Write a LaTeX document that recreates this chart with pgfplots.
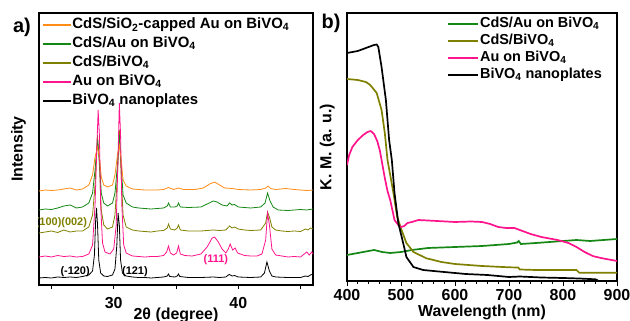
\documentclass[border=0pt]{standalone}
\usepackage{fontspec}
\setmainfont{Liberation Sans}
\usepackage{pgfplots}
\pgfplotsset{compat=1.18}
\definecolor{cOr}{RGB}{255,140,20}
\definecolor{cGr}{RGB}{20,135,20}
\definecolor{cOl}{RGB}{128,128,0}
\definecolor{cPk}{RGB}{255,20,140}
\newcommand{\sub}[1]{\textsubscript{#1}}
\tikzset{la/.style={line width=0.8bp}, lb/.style={line width=1.7bp}}
\begin{document}
\begin{tikzpicture}
\path[use as bounding box] (0bp,0bp) rectangle (630bp,321bp);
\node[font=\bfseries\fontsize{20}{20}\selectfont] at (22bp,294bp) {a)};
\node[font=\bfseries\fontsize{20}{20}\selectfont] at (331bp,298bp) {b)};
% ---------------- panel a
\begin{axis}[
 at={(39bp,36bp)}, anchor=south west, scale only axis, width=274bp, height=272bp,
 xmin=24, xmax=46, ymin=0, ymax=272,
 xtick={25,30,35,40,45}, xticklabels={,30,,40,},
 ytick=\empty, tick align=outside, xtick pos=bottom, major tick length=4bp,
 axis line style={line width=1.1bp}, every tick/.style={black, line width=0.9bp},
 xticklabel style={font=\bfseries\fontsize{16}{16}\selectfont},
 xticklabel shift=5bp,
 xlabel={2θ (degree)}, ylabel={Intensity},
 label style={font=\bfseries\fontsize{16}{16}\selectfont},
 xlabel style={at={(axis description cs:0.5,0)}, anchor=north, yshift=-19bp},
 ylabel style={at={(axis description cs:-0.035,0.5)}, anchor=south},
 legend style={at={(0,1)}, anchor=north west, xshift=3bp, yshift=-4bp, draw=none, fill=none,
   font=\bfseries\fontsize{15}{15}\selectfont, row sep=3.5bp, inner sep=0pt,
   nodes={inner sep=1bp, text height=10.5bp, text depth=3bp}},
 legend cell align=left,
 legend image code/.code={\draw[#1, line width=1.2bp] (0bp,0bp) -- (28bp,0bp);},
]
\addlegendimage{cOr}\addlegendentry{CdS/SiO\sub{2}-capped Au on BiVO\sub{4}}
\addlegendimage{cGr}\addlegendentry{CdS/Au on BiVO\sub{4}}
\addlegendimage{cOl}\addlegendentry{CdS/BiVO\sub{4}}
\addlegendimage{cPk}\addlegendentry{Au on BiVO\sub{4}}
\addlegendimage{black}\addlegendentry{BiVO\sub{4} nanoplates}
% black
\addplot[black, la, forget plot] coordinates {(24,7) (24.5,7.5) (25,7) (25.5,8) (26,7.5) (26.5,8) (27,7.5) (27.5,8.5) (28,10) (28.3,14) (28.45,30) (28.55,65) (28.62,77) (28.7,60) (28.8,25) (28.95,12) (29.2,9) (29.5,8.5) (29.9,10) (30.1,16) (30.25,40) (30.35,72) (30.45,60) (30.55,25) (30.7,12) (31,9) (31.5,8) (32,7.5) (32.5,7.5) (33,7) (33.5,7.5) (34,8) (34.3,9) (34.4,11) (34.5,8.5) (34.9,8) (35.1,9) (35.2,11) (35.3,8.5) (36,7.5) (37,7.5) (38,8) (38.5,7.5) (39,8) (39.2,10) (39.3,10.5) (39.5,9) (39.7,9.5) (40,8) (41,7.5) (41.8,8) (42.1,12) (42.3,23) (42.5,14) (42.7,9) (43,8) (44,7.5) (45,7.5) (45.4,9) (45.6,8.5) (45.8,10) (46,11)};
% olive
\addplot[cOl, la, forget plot] coordinates {(24,52) (24.5,53) (25,54) (25.5,52.5) (26,55) (26.5,53) (27,54) (27.5,54) (28,58) (28.3,70) (28.5,100) (28.7,150) (28.85,120) (29,75) (29.2,60) (29.5,56) (29.9,58) (30.1,70) (30.3,110) (30.45,155) (30.6,110) (30.75,70) (31,58) (31.5,55) (32,54) (32.5,53.5) (33,53) (33.5,54) (34,54.5) (34.3,57) (34.4,61) (34.55,56) (34.9,55) (35.1,57) (35.2,60) (35.35,55) (36,54) (37,54) (38,55) (38.5,54.5) (39,55) (39.3,59) (39.5,57) (39.7,58) (40,56) (40.5,55) (41,54.5) (41.8,55) (42.2,62) (42.35,73) (42.5,68) (42.7,58) (43,55) (43.5,54) (44,53.5) (44.5,54) (45,53.5) (45.4,56) (45.6,55) (45.8,57) (46,56)};
% green
\addplot[cGr, la, forget plot] coordinates {(24,75) (24.5,76) (25,75.5) (25.5,77) (26,79) (26.5,80) (27,77) (27.5,78) (28,82) (28.3,92) (28.5,115) (28.7,145) (28.85,125) (29,92) (29.2,82) (29.5,79) (29.9,82) (30.1,92) (30.3,120) (30.45,150) (30.6,120) (30.75,90) (31,82) (31.5,78) (32,77) (32.5,76.5) (33,76) (33.5,76.5) (34,77) (34.3,79) (34.4,82) (34.55,78) (34.9,78) (35.1,79) (35.2,82) (35.35,78) (36,77.5) (37,78) (37.5,81) (38,84) (38.3,83) (38.7,80) (39.1,79) (39.3,82) (39.5,80) (39.7,80.5) (40,78) (41,77) (41.8,78) (42.15,82) (42.35,92) (42.55,84) (42.8,78) (43.2,75) (44,74.5) (44.5,75) (45,75.5) (45.5,75) (46,76)};
% orange
\addplot[cOr, la, forget plot] coordinates {(24,94) (24.5,95) (25,94.5) (25.5,95) (26,96) (26.5,97) (27,95) (27.5,96) (28,100) (28.3,110) (28.5,128) (28.7,138) (28.85,128) (29,108) (29.2,100) (29.5,98) (29.9,100) (30.1,110) (30.3,130) (30.45,140) (30.6,125) (30.75,105) (31,99) (31.5,96) (32,95.5) (32.5,95) (33,95) (33.5,95) (34,95.5) (34.4,97.5) (34.8,95.5) (35.2,97) (35.6,95.5) (36.5,95.5) (37.2,97) (37.7,101) (38.1,103) (38.5,100) (38.9,97) (39.5,96.5) (40,95.5) (41,95) (41.8,95.5) (42.2,97) (42.4,99) (42.6,96.5) (43,95.5) (43.8,96.5) (44.5,95.5) (45,95) (45.5,94.5) (46,95)};
% pink
\addplot[cPk, la, forget plot] coordinates {(24,28) (24.5,29) (25,28) (25.5,29.5) (26,28.5) (26.5,29) (27,28) (27.5,28.5) (28,31) (28.3,40) (28.5,80) (28.65,140) (28.75,175) (28.85,150) (28.95,80) (29.1,42) (29.3,33) (29.7,31) (30,36) (30.2,60) (30.35,130) (30.45,182) (30.55,150) (30.65,80) (30.8,40) (31,32) (31.5,29) (32,28.5) (32.5,28) (33,28.5) (33.5,28.5) (34,29.5) (34.25,33) (34.4,39) (34.55,32) (34.8,30) (35.05,32) (35.2,39) (35.35,31) (35.7,29.5) (36.3,29) (37,31) (37.5,38) (37.9,47) (38.1,48) (38.4,43) (38.7,36) (39,32) (39.2,36) (39.35,41) (39.55,35) (39.75,37) (39.95,32) (40.5,29.5) (41,29) (41.5,29) (41.9,31) (42.2,45) (42.35,72) (42.5,60) (42.7,36) (43,30) (43.5,29) (44,28) (44.5,28.5) (45,28) (45.3,31) (45.5,33) (45.7,30) (45.9,33) (46,31)};
\node[font=\bfseries\fontsize{11}{11}\selectfont, text=cOl] at (axis cs:25.8,62) {(100)(002)};
\node[font=\bfseries\fontsize{11}{11}\selectfont] at (axis cs:26.9,13) {(-120)};
\node[font=\bfseries\fontsize{11}{11}\selectfont] at (axis cs:31.7,13) {(121)};
\node[font=\bfseries\fontsize{11}{11}\selectfont, text=cPk] at (axis cs:38.2,25) {(111)};
\end{axis}
% ---------------- panel b
\begin{axis}[
 at={(347bp,40bp)}, anchor=south west, scale only axis, width=270bp, height=268bp,
 xmin=400, xmax=900, ymin=0, ymax=268,
 xtick={400,500,...,900}, minor x tick num=4,
 ytick=\empty, tick align=outside, xtick pos=bottom, major tick length=5bp, minor tick length=3bp,
 axis line style={line width=1.1bp}, every tick/.style={black, line width=0.9bp},
 /pgf/number format/assume math mode=true,
 xticklabel style={font=\bfseries\fontsize{16}{16}\selectfont},
 xlabel={Wavelength (nm)}, ylabel={K. M. (a. u.)},
 label style={font=\bfseries\fontsize{16}{16}\selectfont},
 xlabel style={at={(axis description cs:0.5,0)}, anchor=north, yshift=-20bp},
 ylabel style={at={(axis description cs:-0.033,0.5)}, anchor=south},
 legend style={at={(1,1)}, anchor=north east, xshift=-14bp, yshift=-3bp, draw=none, fill=none,
   font=\bfseries\fontsize{14.5}{14.5}\selectfont, row sep=2bp, inner sep=0pt,
   nodes={inner sep=1bp, text height=10bp, text depth=3bp}},
 legend cell align=left,
 legend image code/.code={\draw[#1, line width=1.8bp] (0bp,0bp) -- (30bp,0bp);},
]
\addlegendimage{cGr}\addlegendentry{CdS/Au on BiVO\sub{4}}
\addlegendimage{cOl}\addlegendentry{CdS/BiVO\sub{4}}
\addlegendimage{cPk}\addlegendentry{Au on BiVO\sub{4}}
\addlegendimage{black}\addlegendentry{BiVO\sub{4} nanoplates}
\addplot[cGr, lb, forget plot] coordinates {(400,26) (420,28) (435,29.5) (450,31) (465,29) (480,28) (500,29) (520,31) (550,33) (600,34) (650,35) (700,37) (715,38.5) (718,40) (722,37) (750,38) (800,40) (825,41) (850,40) (875,41) (900,42)};
\addplot[cOl, lb, forget plot] coordinates {(400,202) (420,201) (435,199) (443,196) (455,188) (464,171) (470,148) (475,121) (486,88) (493,64) (501,51) (510,38) (523,29) (547,22.7) (575,19) (600,17) (650,15) (700,13.7) (717,13.5) (720,11.5) (750,11) (800,11) (825,11) (830,8.3) (900,8.3)};
\addplot[cPk, lb, forget plot] coordinates {(400,116) (404,126) (410,134) (420,141) (430,146) (438,149) (444,150) (450,147) (456,140) (461,130) (466,115) (470,103) (475,90) (480,81) (488,61) (495,56) (500,54) (506,55) (512,58) (520,59) (532,61) (550,60.5) (600,59) (630,59.5) (650,59) (665,57) (680,54) (695,53) (710,53) (725,50) (740,47) (760,44) (790,41) (810,38) (825,34) (840,29) (855,25) (870,23) (885,21.5) (900,20)};
\addplot[black, lb, forget plot] coordinates {(400,228) (420,230) (440,234) (450,236) (455,236.5) (458,234) (464,214) (472,181) (478,141) (483,121) (488,88) (495,58) (504,38) (510,24) (523,14) (541,11) (560,10) (580,9) (600,8) (620,7) (640,6.5) (660,6) (680,5) (700,4) (720,4.5) (740,4) (760,3.5) (800,3) (830,2.5) (860,1.7) (865,0.5)};
\end{axis}
\end{tikzpicture}
\end{document}
